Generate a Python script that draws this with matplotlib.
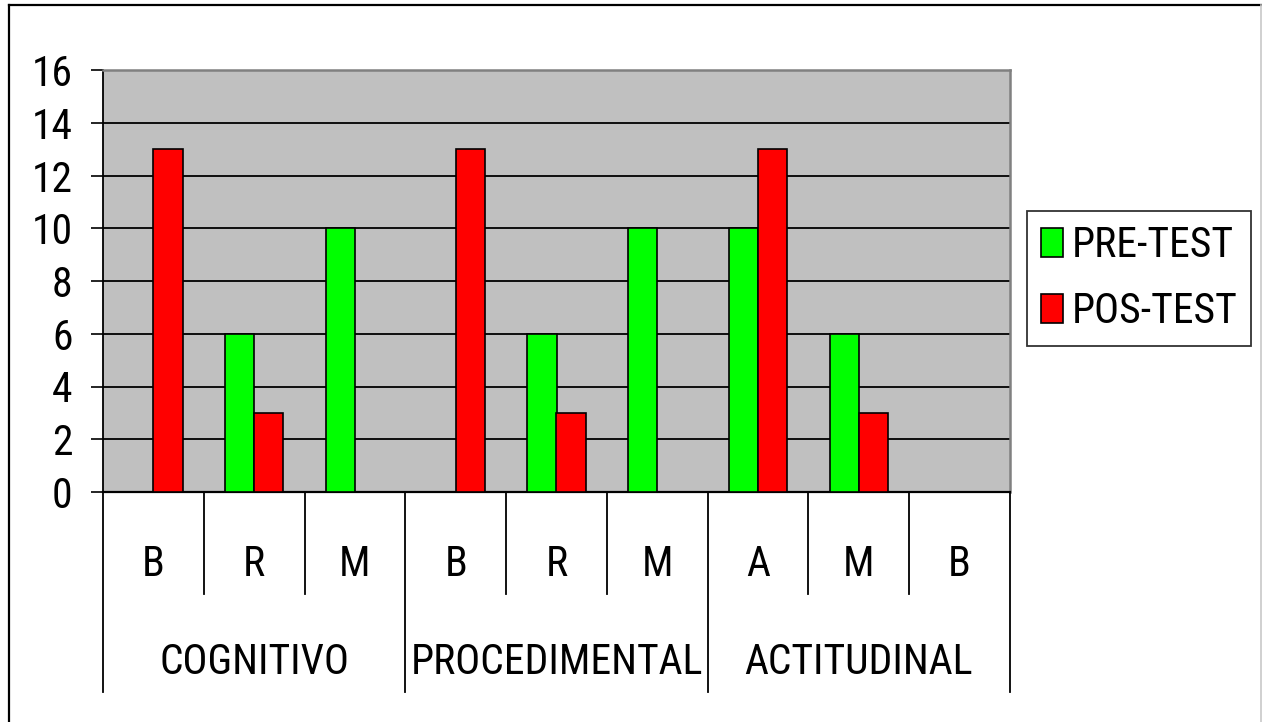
import matplotlib
matplotlib.use("Agg")
import matplotlib.pyplot as plt
import matplotlib.transforms as mtransforms
from matplotlib.lines import Line2D
from matplotlib import font_manager

groups = ["COGNITIVO", "PROCEDIMENTAL", "ACTITUDINAL"]
sub_labels = ["B", "R", "M", "B", "R", "M", "A", "M", "B"]
pre_test = [0, 6, 10, 0, 6, 10, 10, 6, 0]
pos_test = [13, 3, 0, 13, 3, 0, 13, 3, 0]
series_names = ["PRE-TEST", "POS-TEST"]
y_ticks = [0, 2, 4, 6, 8, 10, 12, 14, 16]

narrow = None
for f in font_manager.fontManager.ttflist:
    n = f.name
    if ("Narrow" in n or "Condensed" in n) and ("Liberation" in n or "Arial" in n
                                                 or "Roboto" in n or "Open Sans" in n):
        narrow = n
        break
if narrow:
    FAMILY = narrow
    FS = 30
else:
    FAMILY = "Liberation Sans"
    FS = 25
plt.rcParams["font.family"] = [FAMILY, "DejaVu Sans"]

W, H = 1262, 722
fig = plt.figure(figsize=(W / 100, H / 100), dpi=100)
fig.patch.set_facecolor("white")

def fx(px):
    return px / W

def fy(py):
    return 1 - py / H

# outer frame
fig.add_artist(Line2D([fx(9), fx(9)], [fy(5), fy(730)], color="black", lw=1.6))
fig.add_artist(Line2D([fx(9), fx(1261)], [fy(5), fy(5)], color="black", lw=1.6))
fig.add_artist(Line2D([fx(1261), fx(1261)], [fy(5), fy(730)], color="#c8c8c8", lw=1.2))

L, R, T, B = 103, 1010, 70, 492
ax = fig.add_axes([fx(L), fy(B), fx(R - L), (B - T) / H])
ax.set_facecolor("#C0C0C0")

x = list(range(len(sub_labels)))
bw = 0.29
ax.bar([i - bw / 2 for i in x], pre_test, width=bw, color="#00FF00",
       edgecolor="black", linewidth=1.2, label=series_names[0], zorder=3)
ax.bar([i + bw / 2 for i in x], pos_test, width=bw, color="#FF0000",
       edgecolor="black", linewidth=1.2, label=series_names[1], zorder=3)

ax.set_xlim(-0.5, len(sub_labels) - 0.5)
ax.set_ylim(0, 16)
ax.set_yticks(y_ticks)
ax.set_yticklabels([str(v) for v in y_ticks], fontsize=FS)
ax.tick_params(axis="y", direction="out", length=9, width=1.2, pad=13, colors="black")
ax.set_xticks([])
ax.yaxis.grid(True, color="black", lw=1.3, zorder=1)
ax.set_axisbelow(True)
for s in ["top", "right"]:
    ax.spines[s].set_color("#808080")
    ax.spines[s].set_linewidth(1.8)
ax.spines["left"].set_color("black")
ax.spines["left"].set_linewidth(1.3)
ax.spines["bottom"].set_color("black")
ax.spines["bottom"].set_linewidth(1.6)

trans = mtransforms.blended_transform_factory(ax.transData, fig.transFigure)
for k in range(len(sub_labels) + 1):
    xb = k - 0.5
    ybot = 692 if k % 3 == 0 else 594
    fig.add_artist(Line2D([xb, xb], [fy(B), fy(ybot)], color="black", lw=1.3,
                          transform=trans, clip_on=False))
for i, lab in enumerate(sub_labels):
    fig.text(i, fy(565), lab, transform=trans, ha="center", va="center", fontsize=FS)
for g, name in enumerate(groups):
    fig.text(3 * g + 1, fy(662), name, transform=trans, ha="center", va="center", fontsize=FS)

fpx = FS * 100 / 72
leg = fig.legend(loc="upper left", bbox_to_anchor=(fx(1027), fy(211)),
                 fontsize=FS, frameon=True, fancybox=False, edgecolor="black",
                 handlelength=22 / fpx, handleheight=29 / fpx, handletextpad=0.22,
                 labelspacing=0.6, borderpad=0.33, borderaxespad=0)
leg.get_frame().set_linewidth(1.3)

fig.savefig("out.png", dpi=100)
